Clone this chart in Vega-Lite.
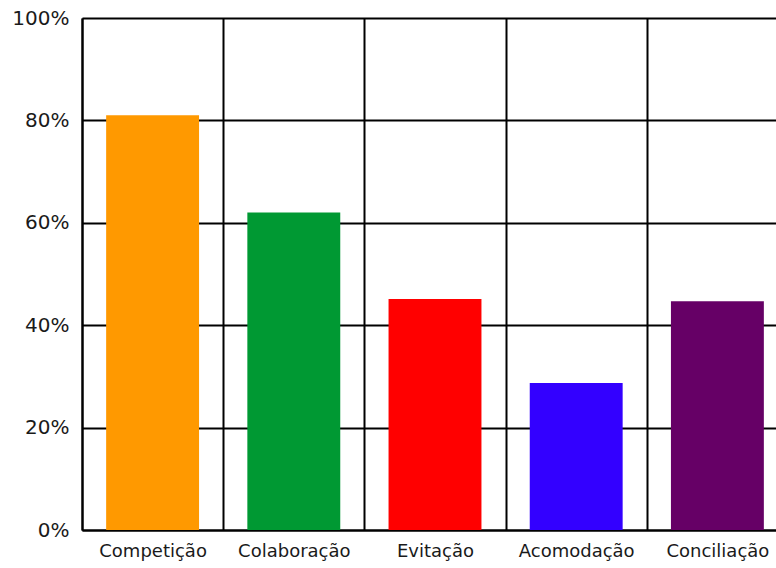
{
  "$schema": "https://vega.github.io/schema/vega-lite/v6.json",
  "width": 706,
  "height": 512,
  "autosize": {"type": "none"},
  "padding": {"left": 82, "top": 18, "right": 0, "bottom": 38},
  "background": "white",
  "config": {"view": {"stroke": null}},
  "data": {
    "values": [
      {"estilo": "Competição", "valor": 0.81},
      {"estilo": "Colaboração", "valor": 0.62},
      {"estilo": "Evitação", "valor": 0.451},
      {"estilo": "Acomodação", "valor": 0.287},
      {"estilo": "Conciliação", "valor": 0.447}
    ]
  },
  "mark": {"type": "bar", "width": {"band": 0.658}},
  "encoding": {
    "x": {
      "field": "estilo",
      "type": "nominal",
      "sort": null,
      "scale": {"paddingInner": 0, "paddingOuter": 0},
      "axis": {
        "title": null,
        "tickBand": "extent",
        "ticks": false,
        "labelAngle": 0,
        "labelFont": "DejaVu Sans",
        "labelFontSize": 18,
        "labelColor": "#1a1a1a",
        "labelPadding": 12,
        "grid": true,
        "gridColor": "#000000",
        "gridWidth": 2,
        "gridOpacity": 1,
        "domainColor": "#000000",
        "domainWidth": 2
      }
    },
    "y": {
      "field": "valor",
      "type": "quantitative",
      "scale": {"domain": [0, 1]},
      "axis": {
        "title": null,
        "format": ".0%",
        "values": [0, 0.2, 0.4, 0.6, 0.8, 1],
        "ticks": false,
        "labelFont": "DejaVu Sans",
        "labelFontSize": 20,
        "labelColor": "#1a1a1a",
        "labelPadding": 13,
        "grid": true,
        "gridColor": "#000000",
        "gridWidth": 2,
        "gridOpacity": 1,
        "domainColor": "#000000",
        "domainWidth": 2
      }
    },
    "color": {
      "field": "estilo",
      "type": "nominal",
      "sort": null,
      "scale": {
        "domain": ["Competição", "Colaboração", "Evitação", "Acomodação", "Conciliação"],
        "range": ["#FF9900", "#009933", "#FF0000", "#3300FF", "#660066"]
      },
      "legend": null
    }
  }
}
